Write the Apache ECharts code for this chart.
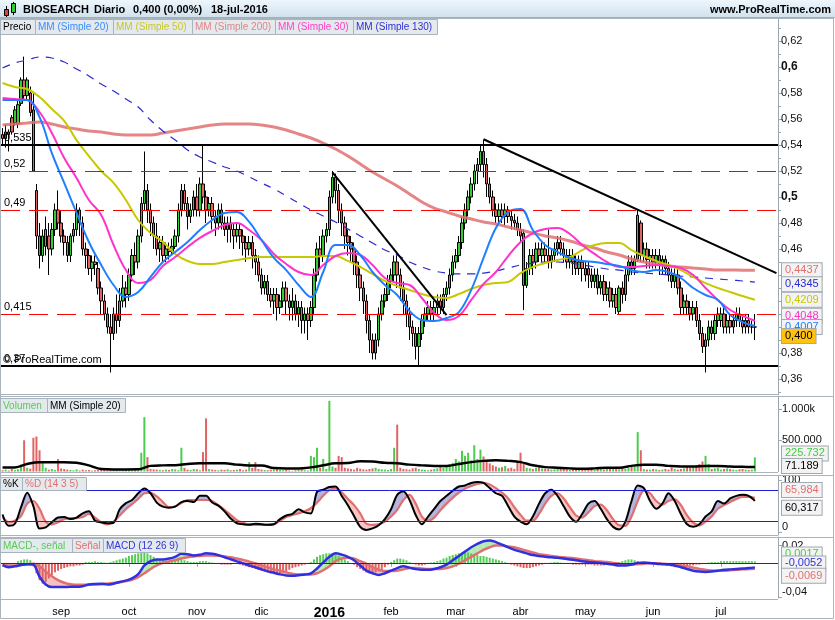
<!DOCTYPE html>
<html><head><meta charset="utf-8">
<script src="https://cdn.jsdelivr.net/npm/echarts@6/dist/echarts.min.js"></script>
<style>html,body{margin:0;padding:0;background:#fff}#c{width:835px;height:620px}</style>
</head><body><div id="c"></div>
<script>
// ---------------- DATA ----------------
const monthStartIdx = [19, 41, 63, 84, 106, 126, 147, 168, 189, 211, 233];
const monthLabels   = ['sep','oct','nov','dic','2016','feb','mar','abr','may','jun','jul'];

// daily candles [open, close, low, high]
const candles = [
[0.548,0.545,0.54,0.553],[0.545,0.55,0.538,0.556],[0.55,0.548,0.535,0.552],[0.561,0.55,0.548,0.563],[0.557,0.567,0.555,0.57],[0.556,0.571,0.553,0.575],[0.572,0.59,0.57,0.592],[0.59,0.578,0.575,0.608],[0.578,0.59,0.575,0.592],[0.58,0.565,0.562,0.585],
[0.567,0.52,0.52,0.58],[0.505,0.47,0.46,0.51],[0.47,0.455,0.445,0.48],[0.455,0.47,0.45,0.475],[0.462,0.475,0.455,0.485],[0.47,0.46,0.44,0.48],[0.46,0.475,0.455,0.48],[0.475,0.49,0.47,0.495],[0.49,0.48,0.475,0.505],[0.48,0.47,0.465,0.49],
[0.47,0.465,0.455,0.475],[0.465,0.455,0.45,0.47],[0.455,0.47,0.45,0.472],[0.47,0.475,0.465,0.48],[0.475,0.49,0.47,0.495],[0.49,0.48,0.47,0.492],[0.48,0.46,0.455,0.485],[0.46,0.455,0.445,0.465],[0.455,0.445,0.44,0.46],[0.445,0.45,0.435,0.455],
[0.45,0.448,0.44,0.455],[0.445,0.43,0.425,0.45],[0.43,0.42,0.41,0.435],[0.42,0.41,0.405,0.425],[0.41,0.4,0.395,0.415],[0.4,0.395,0.365,0.41],[0.395,0.41,0.39,0.415],[0.41,0.405,0.395,0.425],[0.405,0.42,0.4,0.43],[0.42,0.43,0.415,0.44],
[0.43,0.425,0.415,0.435],[0.425,0.44,0.42,0.445],[0.44,0.455,0.435,0.46],[0.455,0.45,0.44,0.465],[0.45,0.47,0.445,0.475],[0.47,0.495,0.465,0.5],[0.495,0.505,0.49,0.535],[0.505,0.49,0.48,0.51],[0.49,0.48,0.47,0.495],[0.48,0.47,0.46,0.485],
[0.47,0.46,0.455,0.48],[0.46,0.465,0.45,0.47],[0.465,0.455,0.45,0.47],[0.455,0.46,0.45,0.465],[0.46,0.458,0.452,0.465],[0.458,0.462,0.455,0.468],[0.462,0.47,0.46,0.475],[0.47,0.49,0.465,0.495],[0.49,0.505,0.485,0.51],[0.505,0.495,0.49,0.51],
[0.495,0.485,0.475,0.5],[0.485,0.49,0.48,0.495],[0.49,0.5,0.485,0.505],[0.5,0.49,0.485,0.51],[0.49,0.51,0.485,0.515],[0.51,0.5,0.495,0.54],[0.5,0.49,0.48,0.505],[0.49,0.495,0.485,0.5],[0.495,0.485,0.475,0.5],[0.485,0.48,0.47,0.49],
[0.48,0.49,0.475,0.495],[0.49,0.48,0.475,0.495],[0.48,0.475,0.47,0.485],[0.475,0.48,0.465,0.485],[0.48,0.475,0.465,0.485],[0.475,0.47,0.46,0.48],[0.47,0.475,0.465,0.48],[0.475,0.47,0.46,0.48],[0.47,0.465,0.455,0.475],[0.465,0.46,0.45,0.47],
[0.46,0.465,0.455,0.47],[0.465,0.455,0.445,0.47],[0.455,0.45,0.44,0.46],[0.45,0.44,0.435,0.455],[0.44,0.43,0.425,0.445],[0.43,0.435,0.425,0.44],[0.435,0.425,0.42,0.44],[0.425,0.42,0.415,0.43],[0.42,0.425,0.41,0.43],[0.425,0.415,0.405,0.43],
[0.415,0.42,0.41,0.425],[0.42,0.43,0.415,0.435],[0.43,0.42,0.41,0.435],[0.42,0.415,0.405,0.425],[0.415,0.42,0.405,0.43],[0.42,0.41,0.405,0.425],[0.41,0.415,0.4,0.42],[0.415,0.405,0.395,0.42],[0.405,0.41,0.395,0.415],[0.41,0.405,0.39,0.415],
[0.405,0.415,0.4,0.42],[0.415,0.44,0.41,0.445],[0.44,0.46,0.435,0.465],[0.46,0.455,0.445,0.47],[0.455,0.47,0.45,0.475],[0.47,0.475,0.465,0.48],[0.475,0.5,0.47,0.505],[0.5,0.515,0.495,0.52],[0.515,0.505,0.495,0.518],[0.505,0.49,0.48,0.51],
[0.49,0.48,0.47,0.495],[0.48,0.47,0.46,0.485],[0.47,0.465,0.455,0.475],[0.465,0.46,0.45,0.47],[0.46,0.45,0.44,0.465],[0.45,0.44,0.43,0.455],[0.44,0.43,0.42,0.445],[0.43,0.42,0.41,0.435],[0.42,0.405,0.395,0.425],[0.405,0.39,0.38,0.41],
[0.39,0.38,0.375,0.395],[0.38,0.39,0.375,0.395],[0.39,0.41,0.385,0.415],[0.41,0.42,0.405,0.425],[0.42,0.425,0.415,0.43],[0.425,0.435,0.42,0.44],[0.435,0.44,0.43,0.445],[0.44,0.45,0.435,0.455],[0.45,0.44,0.43,0.455],[0.44,0.43,0.42,0.445],
[0.43,0.42,0.41,0.435],[0.42,0.41,0.4,0.425],[0.41,0.4,0.39,0.415],[0.4,0.395,0.385,0.405],[0.395,0.385,0.375,0.4],[0.385,0.395,0.37,0.4],[0.395,0.405,0.39,0.41],[0.405,0.41,0.4,0.415],[0.41,0.415,0.405,0.42],[0.415,0.41,0.405,0.42],
[0.41,0.415,0.405,0.42],[0.415,0.42,0.41,0.425],[0.42,0.415,0.41,0.425],[0.415,0.425,0.41,0.43],[0.425,0.43,0.42,0.435],[0.43,0.44,0.425,0.445],[0.44,0.45,0.435,0.455],[0.45,0.455,0.445,0.46],[0.455,0.465,0.45,0.47],[0.465,0.48,0.46,0.485],
[0.48,0.49,0.475,0.495],[0.49,0.5,0.485,0.505],[0.5,0.51,0.495,0.515],[0.51,0.52,0.505,0.525],[0.52,0.525,0.51,0.53],[0.525,0.535,0.52,0.54],[0.535,0.525,0.515,0.544],[0.525,0.51,0.5,0.53],[0.51,0.5,0.495,0.515],[0.5,0.49,0.485,0.505],
[0.49,0.485,0.48,0.495],[0.485,0.49,0.48,0.495],[0.49,0.485,0.48,0.495],[0.485,0.49,0.478,0.495],[0.49,0.485,0.48,0.493],[0.485,0.482,0.475,0.49],[0.482,0.48,0.475,0.487],[0.48,0.475,0.47,0.485],[0.475,0.47,0.465,0.48],[0.472,0.432,0.413,0.475],
[0.432,0.445,0.43,0.45],[0.445,0.455,0.44,0.46],[0.455,0.45,0.44,0.46],[0.45,0.46,0.445,0.465],[0.46,0.455,0.45,0.465],[0.455,0.46,0.45,0.465],[0.46,0.455,0.45,0.465],[0.455,0.45,0.445,0.475],[0.45,0.455,0.445,0.46],[0.455,0.46,0.45,0.465],
[0.46,0.465,0.455,0.47],[0.465,0.46,0.455,0.47],[0.46,0.455,0.45,0.465],[0.455,0.45,0.445,0.46],[0.45,0.455,0.445,0.46],[0.455,0.45,0.44,0.46],[0.45,0.445,0.44,0.455],[0.445,0.45,0.44,0.455],[0.45,0.445,0.435,0.455],[0.445,0.44,0.435,0.45],
[0.445,0.44,0.43,0.45],[0.44,0.435,0.43,0.445],[0.435,0.44,0.43,0.445],[0.44,0.43,0.425,0.445],[0.43,0.435,0.425,0.44],[0.435,0.425,0.42,0.44],[0.425,0.43,0.42,0.435],[0.43,0.42,0.415,0.435],[0.42,0.425,0.415,0.43],[0.425,0.415,0.41,0.43],
[0.412,0.43,0.41,0.432],[0.43,0.425,0.418,0.435],[0.425,0.44,0.42,0.445],[0.44,0.45,0.435,0.455],[0.45,0.445,0.44,0.455],[0.445,0.452,0.44,0.455],[0.452,0.486,0.45,0.49],[0.48,0.455,0.45,0.482],[0.455,0.46,0.45,0.465],[0.46,0.452,0.445,0.465],
[0.452,0.455,0.445,0.46],[0.455,0.45,0.445,0.46],[0.45,0.455,0.445,0.46],[0.455,0.448,0.44,0.46],[0.448,0.452,0.44,0.455],[0.452,0.445,0.44,0.455],[0.445,0.44,0.435,0.45],[0.44,0.435,0.43,0.445],[0.435,0.44,0.43,0.445],[0.44,0.43,0.425,0.445],
[0.43,0.415,0.41,0.435],[0.415,0.42,0.41,0.425],[0.42,0.415,0.41,0.425],[0.415,0.41,0.405,0.42],[0.41,0.415,0.405,0.42],[0.415,0.405,0.4,0.42],[0.405,0.395,0.39,0.41],[0.395,0.385,0.38,0.4],[0.385,0.39,0.365,0.395],[0.39,0.4,0.385,0.405],
[0.4,0.395,0.39,0.405],[0.395,0.405,0.39,0.41],[0.405,0.41,0.4,0.415],[0.405,0.41,0.4,0.415],[0.41,0.4,0.395,0.415],[0.4,0.405,0.395,0.41],[0.405,0.4,0.395,0.41],[0.4,0.405,0.395,0.41],[0.405,0.41,0.4,0.415],[0.41,0.405,0.4,0.415],
[0.405,0.4,0.395,0.41],[0.4,0.405,0.395,0.41],[0.405,0.4,0.395,0.41],[0.4,0.4,0.395,0.405],[0.4,0.4,0.39,0.41]
];

// daily volume, thousands of shares
const volK = [
20,30,15,40,25,35,110,500,60,45, 540,560,340,150,60,30,40,25,200,50,
40,30,25,20,35,15,30,20,25,15, 20,25,35,30,20,40,30,20,15,30,
25,30,20,35,40,300,870,230,40,35, 30,25,20,30,25,40,35,20,380,60,
30,25,40,35,20,310,850,40,30,25, 20,30,25,35,20,25,30,40,20,30,
150,60,150,40,30,25,20,30,35,40, 25,20,30,15,10,20,25,30,20,15,
250,230,380,60,200,40,1130,80,60,250, 230,60,50,40,30,60,45,35,30,40,
50,60,40,35,30,25,40,380,750,60, 40,35,30,50,60,40,30,25,20,30,
40,50,80,60,100,120,140,200,160,330, 250,300,180,420,200,350,240,150,130,100,
80,60,70,90,50,60,40,150,300,120, 60,50,40,60,70,50,45,40,30,35,
40,50,60,30,25,40,50,30,35,45, 50,40,30,60,40,30,40,50,50,40,
35,60,40,60,80,90,630,340,40,30, 30,40,35,25,30,40,30,60,40,30,
40,50,80,60,80,100,120,160,250,120, 40,50,60,30,40,50,40,30,25,35,
40,30,25,30,225.732
];

// moving averages sampled every 4 sessions (index 0,4,...,244)
const ma20 = [0.5746,0.5746,0.5746,0.5615,0.5338,0.5108,0.4877,0.4654,0.4477,0.4323,0.4231,0.4269,0.4385,0.45,0.4577,0.4654,0.4746,0.4823,0.4877,0.4885,0.4808,0.4669,0.4531,0.4438,0.4323,0.4231,0.4423,0.4631,0.4631,0.4554,0.4423,0.4323,0.4246,0.4123,0.4054,0.4046,0.4069,0.4115,0.4285,0.4531,0.4762,0.4885,0.4908,0.4746,0.4631,0.4577,0.4531,0.4508,0.45,0.4485,0.4469,0.4438,0.4423,0.4438,0.4423,0.4377,0.43,0.4246,0.4208,0.4092,0.4038,0.4007];
const ma30 = [0.5762,0.5754,0.5746,0.5654,0.5492,0.53,0.5146,0.4977,0.4862,0.4631,0.4438,0.4338,0.4362,0.4469,0.4538,0.4615,0.4685,0.4739,0.4785,0.48,0.4746,0.4669,0.4562,0.4485,0.4423,0.44,0.4477,0.4546,0.4569,0.4554,0.4477,0.4377,0.4338,0.4323,0.4223,0.4108,0.4054,0.4085,0.4208,0.4331,0.4423,0.4546,0.4654,0.4723,0.4754,0.4762,0.4715,0.4631,0.4562,0.45,0.4462,0.4462,0.4469,0.4477,0.4469,0.4454,0.44,0.43,0.4208,0.4131,0.4085,0.4048];
const ma50 = [0.5877,0.5846,0.5831,0.5769,0.5677,0.5585,0.5438,0.5315,0.52,0.5108,0.4977,0.4823,0.4723,0.4654,0.4562,0.4508,0.4485,0.4485,0.45,0.4515,0.4531,0.4538,0.4538,0.4538,0.4538,0.4538,0.4546,0.4546,0.4508,0.4462,0.4408,0.4354,0.4315,0.4285,0.4254,0.4231,0.4223,0.4254,0.4292,0.4323,0.4338,0.4346,0.4415,0.4462,0.4492,0.4515,0.4538,0.4592,0.4631,0.4646,0.4646,0.4592,0.4546,0.4508,0.4477,0.4438,0.4385,0.4338,0.43,0.4269,0.4238,0.4209];
const ma200 = [0.5554,0.5562,0.5569,0.5577,0.5562,0.5539,0.5523,0.5508,0.55,0.5485,0.5477,0.5477,0.5477,0.5492,0.5508,0.5523,0.5539,0.5554,0.5562,0.5562,0.5562,0.5554,0.5539,0.5515,0.5485,0.5454,0.5415,0.5369,0.5315,0.5254,0.5192,0.5138,0.5085,0.5023,0.4962,0.4915,0.4885,0.4854,0.4831,0.4808,0.4792,0.4769,0.4746,0.4723,0.47,0.4685,0.4662,0.4631,0.4608,0.4577,0.4554,0.4523,0.45,0.4485,0.4469,0.4462,0.4454,0.4446,0.4438,0.4438,0.4437,0.4437];
const ma130 = [0.5992,0.6031,0.6054,0.6077,0.6069,0.6038,0.5985,0.5931,0.5869,0.5815,0.5754,0.5692,0.5592,0.5508,0.5438,0.5362,0.5308,0.5269,0.5231,0.52,0.5154,0.5108,0.5062,0.5008,0.4954,0.49,0.4854,0.4808,0.4754,0.47,0.4646,0.4592,0.4554,0.45,0.4462,0.4431,0.4415,0.4408,0.4408,0.4415,0.4431,0.4454,0.4477,0.4492,0.45,0.45,0.4492,0.4477,0.4462,0.4446,0.4438,0.4423,0.4415,0.4408,0.44,0.4392,0.4385,0.4377,0.4369,0.4362,0.4354,0.4345];
const volMA20K = [66,66,120,148,148,148,140,98,40,33,33,35,90,98,100,120,131,131,131,110,98,98,55,49,49,66,100,131,135,164,160,140,131,110,98,90,90,120,150,170,180,170,150,100,70,60,50,45,50,60,60,90,110,110,90,80,80,90,90,80,75,71.189];

// stochastic & MACD sampled every 2 sessions (index 0,2,...,244)
const stochK = [34,12,16,48,76,50,7,9,19,28, 29,25,28,36,40,22,19,17,18,44, 56,62,75,84,75,57,49,47,49,58, 60,58,70,70,57,51,40,26,17,15, 14,16,15,14,15,25,32,35,44,38, 36,78,82,87,88,70,52,31,10,4, 7,13,25,44,72,79,62,33,15,30, 45,60,70,80,88,90,95,97,95,85, 75,70,50,30,20,15,30,55,75,82, 70,50,30,20,35,55,60,45,25,10, 5,20,60,90,85,60,45,55,75,60, 35,15,10,15,30,40,60,55,65,70, 72,70,60.317];
const stochD = [29,19,22,31,55,60,45,20,15,19, 25,27,27,29,35,28,19,15,20,32, 44,54,64,75,76,69,58,48,50,56, 62,62,62,62,60,52,43,33,23,18, 15,14,14,14,15,22,29,33,36,40, 46,57,70,81,84,77,64,52,36,16, 14,15,20,30,43,62,72,55,30,22, 28,42,55,66,76,84,89,93,95,92, 85,76,65,48,33,22,22,35,55,70, 75,65,48,32,28,38,50,53,42,25, 13,12,30,60,80,75,60,53,60,63, 52,32,18,13,20,30,45,52,58,64, 68,68,65.984];
const macdLine = [-0.0025,-0.005,-0.004,-0.0025,-0.0015,-0.002,-0.016,-0.025,-0.028,-0.028,
-0.028,-0.0277,-0.0277,-0.027,-0.025,-0.0243,-0.024,-0.025,-0.024,-0.022,
-0.0205,-0.018,-0.013,-0.003,0.002,0.004,0.004,0.005,0.007,0.0105,
0.01,0.0086,0.0094,0.011,0.0105,0.009,0.0065,0.0042,0.0018,-0.0005,
-0.003,-0.005,-0.0075,-0.0098,-0.0115,-0.0133,-0.0145,-0.015,-0.0143,-0.0135,
-0.012,-0.0065,0.0005,0.007,0.011,0.0095,0.007,0.003,-0.003,-0.009,
-0.012,-0.014,-0.012,-0.009,-0.006,-0.004,-0.0055,-0.0072,-0.008,-0.008,
-0.007,-0.005,-0.002,0.003,0.008,0.013,0.018,0.022,0.025,0.026,
0.024,0.021,0.018,0.015,0.013,0.011,0.009,0.008,0.007,0.0065,
0.006,0.005,0.004,0.003,0.002,0.001,0.0005,0,-0.001,-0.002,
-0.003,-0.003,-0.002,0,0.0005,0,-0.001,-0.0015,-0.002,-0.003,
-0.005,-0.007,-0.009,-0.01,-0.0105,-0.01,-0.009,-0.008,-0.0075,-0.007,
-0.0065,-0.006,-0.0052];
const macdSignal = [-0.0025,-0.003,-0.003,-0.0025,-0.0015,-0.001,-0.004,-0.01,-0.0155,-0.02,
-0.023,-0.0248,-0.0252,-0.0254,-0.0252,-0.025,-0.0247,-0.024,-0.0232,-0.0225,
-0.021,-0.0195,-0.0165,-0.012,-0.007,-0.003,0,0.0015,0.0032,0.005,
0.0065,0.0075,0.008,0.0085,0.0086,0.0082,0.0075,0.0065,0.005,0.0035,
0.0015,-0.0005,-0.003,-0.005,-0.0075,-0.009,-0.011,-0.0125,-0.0133,-0.0135,
-0.0133,-0.012,-0.0085,-0.004,0.002,0.005,0.006,0.005,0.002,-0.001,
-0.005,-0.008,-0.0095,-0.0095,-0.009,-0.0075,-0.006,-0.006,-0.0065,-0.007,
-0.0072,-0.007,-0.006,-0.004,-0.001,0.003,0.007,0.011,0.015,0.018,
0.02,0.02,0.019,0.018,0.016,0.014,0.012,0.01,0.009,0.008,
0.007,0.0065,0.006,0.005,0.004,0.003,0.002,0.0015,0.001,0,
-0.001,-0.002,-0.002,-0.0015,-0.001,-0.0005,-0.0005,-0.001,-0.0015,-0.002,
-0.003,-0.004,-0.0055,-0.007,-0.008,-0.0088,-0.009,-0.009,-0.0085,-0.008,
-0.0075,-0.0072,-0.0069];
// daily MACD histogram ("MACD-, señal")
const macdHist = [
-0.0015,-0.0015,-0.0015,-0.001,-0.001, 0.002,0.003,0.004,0.004,0.003, -0.004,
-0.012,-0.02,-0.024,-0.022, -0.018,-0.014,-0.011,-0.009,-0.007,
-0.006,-0.005,-0.004,-0.004,-0.003,-0.003,-0.002, 0.001,0.001,0.001,0.002,0.001,0.001,0.0005,
-0.0005,0.001,0.002,0.003, 0.004,0.005,0.006,0.008,0.009,0.01,0.011,0.012,0.012,0.011,0.009,0.007,
0.005,0.004,0.003,0.002,0.002,0.003,0.003, 0.004,0.004,0.003,0.002,0.001,0.001,0.001,0.002,0.002,0.002,
0.001,0.0005,-0.0005,-0.001,-0.002,-0.002, -0.002,-0.002,-0.001,-0.001,-0.002,-0.003,
-0.004,-0.005,-0.006,-0.007,-0.008,-0.009,-0.01,-0.011,-0.012,-0.013,-0.013,-0.012,-0.011,-0.01,-0.008,-0.006,-0.005,
-0.004,-0.003,-0.002,-0.001,0.001, 0.004,0.007,0.009,0.01,0.011,0.011,0.011,0.01,0.008,0.006,
0.004,0.002,0,-0.002, -0.005,-0.007,-0.009,-0.011,-0.012,-0.012,-0.011,-0.01,-0.008,-0.005,-0.002,
0.001,0.003,0.005,0.005,0.004,0.003,0.001,-0.001, -0.002,-0.003,-0.003,-0.002,-0.001,0.0005,0.001,
0.002,0.003,0.005,0.006,0.008,0.009,0.01,0.011,0.012,0.012,0.012,0.011,0.01,0.009,0.008,0.008,0.007,0.006,0.005,0.004,
0.003,0.002,0.001,-0.001,-0.002,-0.003,-0.004,-0.005,-0.006,-0.006,-0.006,-0.005,-0.004,-0.003,-0.002,
-0.001,-0.001,0.0005,0.001,0.001,0.0005,-0.0005,-0.001,-0.001,-0.002,-0.002,-0.002,-0.002,-0.002,-0.002,-0.002,-0.003,-0.003,-0.003,-0.003,-0.002,-0.001,-0.001,0.0005,0.001,
0.002,0.003,0.004,0.004,0.003,0.002,0.001,0.0005,-0.0005,-0.001,-0.001,-0.001,-0.001,-0.002,-0.002,
-0.003,-0.004,-0.005,-0.005,-0.005,-0.004,-0.004,-0.003,-0.003,-0.002,-0.002,-0.001,-0.001,
0.0005,0.001,0.001,0.001,0.002,0.002,0.002,0.002,0.002,0.002,0.002,0.002,0.002,0.002,0.002,0.0017
];

// horizontal levels and trend lines on the price panel
const levelsSolid  = [0.535, 0.37];
const levelsDashed = [0.52, 0.49, 0.415];
const trendLines = [[[107, 0.519], [144, 0.4092]], [[156, 0.5444], [251, 0.4415]]];

// axis tick values
const priceTicks = [0.36,0.38,0.4,0.42,0.44,0.46,0.48,0.5,0.52,0.54,0.56,0.58,0.6,0.62];
const priceMinorTicks = [0.35,0.37,0.39,0.41,0.43,0.45,0.47,0.49,0.51,0.53,0.55,0.57,0.59,0.61,0.63];
const volTicksK = [500, 1000];
const stochTicks = [0, 100];
const macdTicks = [-0.04, 0.02];

// ---------------- CHART ----------------
const FONT = "'Liberation Sans', Arial, sans-serif";
const NCAT = 252;
const cats = []; for (let i = 0; i < NCAT; i++) cats.push(String(i));
const maIdx = []; for (let i = 0; i <= 244; i += 4) maIdx.push(i);
const stIdx = []; for (let i = 0; i <= 244; i += 2) stIdx.push(i);
const zip = (xs, ys) => xs.map((x, i) => [x, ys[i]]);
const monthMap = {}; monthStartIdx.forEach((v, i) => monthMap[v] = monthLabels[i]);

const GREEN = '#33cc33', RED = '#e06464', AXC = '#9aa6b0';

const chart = echarts.init(document.getElementById('c'), null, {renderer: 'canvas', width: 835, height: 620});

const grids = [
  {left: 1, top: 18, width: 777, height: 377},
  {left: 1, top: 397, width: 777, height: 74.5},
  {left: 1, top: 476, width: 777, height: 59},
  {left: 1, top: 537, width: 777, height: 62}
];
const xAxes = grids.map((g, gi) => ({
  type: 'category', gridIndex: gi, data: cats, boundaryGap: true,
  axisLine: {show: gi === 3, lineStyle: {color: AXC}},
  axisTick: {show: gi === 3, alignWithLabel: true, length: 4, lineStyle: {color: AXC},
             interval: (i) => monthMap[i] !== undefined},
  axisLabel: {show: gi === 3, interval: (i) => monthMap[i] !== undefined, margin: 8,
              color: '#000', fontSize: 11, fontFamily: FONT,
              formatter: (v) => { const m = monthMap[Number(v)]; return m === '2016' ? '{y|2016}' : m; },
              rich: {y: {fontWeight: 'bold', fontSize: 14, fontFamily: FONT, color: '#000'}}},
  splitLine: {show: false}
}));
const yBase = (gi, min, max) => ({
  type: 'value', gridIndex: gi, position: 'right', min, max, scale: true,
  axisLine: {show: true, lineStyle: {color: AXC}}, splitLine: {show: false}
});
const priceFmt = (v) => {
  const s = String(Math.round(v * 100) / 100).replace('.', ',');
  return [0.4, 0.5, 0.6].some(b => Math.abs(b - v) < 1e-9) ? '{b|' + s + '}' : s;
};
const yAxes = [
  Object.assign(yBase(0, 0.34769, 0.63769), {
    axisTick: {show: true, length: 5, lineStyle: {color: AXC}, customValues: priceTicks},
    axisLabel: {show: true, customValues: priceTicks, margin: 3, color: '#111', fontSize: 11, fontFamily: FONT,
                formatter: priceFmt, rich: {b: {fontWeight: 'bold', fontSize: 12, fontFamily: FONT, color: '#111'}}}
  }),
  Object.assign(yBase(0, 0.34769, 0.63769), {
    axisLine: {show: false},
    axisTick: {show: true, length: 3, lineStyle: {color: AXC}, customValues: priceMinorTicks},
    axisLabel: {show: false}
  }),
  Object.assign(yBase(1, 0, 1192), {
    axisTick: {show: true, length: 4, lineStyle: {color: AXC}, customValues: volTicksK},
    axisLabel: {show: true, customValues: volTicksK, margin: 4, color: '#111', fontSize: 11, fontFamily: FONT,
                formatter: (v) => v === 1000 ? '1.000k' : '500.000'}
  }),
  Object.assign(yBase(2, -5.75, 108.4), {
    axisTick: {show: true, length: 4, lineStyle: {color: AXC}, customValues: stochTicks},
    axisLabel: {show: true, customValues: stochTicks, margin: 4, color: '#111', fontSize: 11, fontFamily: FONT,
                formatter: (v) => v === 0 ? '{z|0}' : '{n|100}',
                rich: {z: {padding: [0, 0, 10, 0], fontSize: 11, fontFamily: FONT, color: '#111'},
                       n: {fontSize: 11, fontFamily: FONT, color: '#111'}}}
  }),
  Object.assign(yBase(3, -0.04057, 0.0299), {
    axisTick: {show: true, length: 4, lineStyle: {color: AXC}, customValues: macdTicks},
    axisLabel: {show: true, customValues: macdTicks, margin: 4, color: '#111', fontSize: 11, fontFamily: FONT,
                formatter: (v) => v < 0 ? '{z|-0,04}' : '{n|0,02}',
                rich: {z: {padding: [0, 0, 11, 0], fontSize: 11, fontFamily: FONT, color: '#111'},
                       n: {fontSize: 11, fontFamily: FONT, color: '#111'}}}
  })
];

function fillBetween(gi, yi, xs, a, b, colUp, colDn) {
  const data = [];
  for (let i = 0; i < xs.length - 1; i++) data.push([xs[i], a[i], b[i], xs[i + 1], a[i + 1], b[i + 1]]);
  return {
    type: 'custom', xAxisIndex: gi, yAxisIndex: yi, silent: true, z: 1, clip: true,
    encode: {x: [0, 3], y: [1, 2, 4, 5]},
    renderItem(params, api) {
      const x0 = api.value(0), a0 = api.value(1), b0 = api.value(2);
      const x1 = api.value(3), a1 = api.value(4), b1 = api.value(5);
      const pa0 = api.coord([x0, a0]), pa1 = api.coord([x1, a1]);
      const pb0 = api.coord([x0, b0]), pb1 = api.coord([x1, b1]);
      const d0 = a0 - b0, d1 = a1 - b1;
      const ch = [];
      if ((d0 >= 0) === (d1 >= 0)) {
        ch.push({type: 'polygon', shape: {points: [pa0, pa1, pb1, pb0]}, style: {fill: (d0 + d1) >= 0 ? colUp : colDn}});
      } else {
        const t = d0 / (d0 - d1);
        const c = [pa0[0] + t * (pa1[0] - pa0[0]), pa0[1] + t * (pa1[1] - pa0[1])];
        ch.push({type: 'polygon', shape: {points: [pa0, c, pb0]}, style: {fill: d0 >= 0 ? colUp : colDn}});
        ch.push({type: 'polygon', shape: {points: [c, pa1, pb1]}, style: {fill: d1 >= 0 ? colUp : colDn}});
      }
      return {type: 'group', children: ch};
    },
    data
  };
}

const lvlLabel = (txt) => ({show: true, position: 'insideStartTop', distance: [3, 2], formatter: txt,
  color: '#000', fontSize: 11, fontFamily: FONT});
const fmtLvl = (v) => String(v).replace('.', ',');
const markData = [];
levelsSolid.forEach(v => markData.push({yAxis: v, lineStyle: {color: '#000', width: 2, type: 'solid'}, label: lvlLabel(fmtLvl(v))}));
levelsDashed.forEach(v => markData.push({yAxis: v, lineStyle: {color: '#ff0000', width: 1, type: [19, 9]}, label: lvlLabel(fmtLvl(v))}));
trendLines.forEach(tl => markData.push([
  {coord: tl[0], lineStyle: {color: '#000', width: 2, type: 'solid'}, label: {show: false}},
  {coord: tl[1]}
]));

const lineS = (xi, yi, data, color, width, extra) => Object.assign({
  type: 'line', xAxisIndex: xi, yAxisIndex: yi, data, symbol: 'none', silent: true,
  lineStyle: {color, width}, itemStyle: {color}, z: 3
}, extra || {});

const series = [
  {type: 'candlestick', xAxisIndex: 0, yAxisIndex: 0, data: candles, barWidth: 3, z: 2, silent: true,
   itemStyle: {color: GREEN, color0: RED, borderColor: '#000', borderColor0: '#000', borderWidth: 1},
   markLine: {symbol: 'none', silent: true, animation: false, data: markData}},
  lineS(0, 0, zip(maIdx, ma200), 'rgba(224,112,112,0.85)', 3, {smooth: 0.4}),
  lineS(0, 0, zip(maIdx, ma130), '#2a2ad0', 1.2, {smooth: 0.4, lineStyle: {color: '#2a2ad0', width: 1.2, type: [8, 7]}}),
  lineS(0, 0, zip(maIdx, ma50), '#c8c800', 2, {smooth: 0.4}),
  lineS(0, 0, zip(maIdx, ma30), '#ff33cc', 2, {smooth: 0.4}),
  lineS(0, 0, zip(maIdx, ma20), '#1e7fff', 2, {smooth: 0.4}),
  {type: 'bar', xAxisIndex: 1, yAxisIndex: 2, barWidth: 2, silent: true,
   data: volK.map((v, i) => ({value: v, itemStyle: {color: candles[i][1] >= candles[i][0] ? '#4ccc4c' : '#e06464'}}))},
  lineS(1, 2, zip(maIdx, volMA20K), '#000', 2.5, {smooth: 0.4}),
  fillBetween(2, 3, stIdx, stochK, stochD, 'rgba(130,130,200,0.6)', 'rgba(240,150,150,0.55)'),
  lineS(2, 3, zip(stIdx, stochD), '#e07070', 2.2, {smooth: 0.3}),
  lineS(2, 3, zip(stIdx, stochK), '#000', 2, {smooth: 0.3,
    markLine: {symbol: 'none', silent: true, label: {show: false}, lineStyle: {color: '#2020d0', width: 1, type: 'solid'},
               data: [{yAxis: 80}, {yAxis: 20}]}}),
  fillBetween(3, 4, stIdx, macdLine, macdSignal, 'rgba(150,225,150,0.7)', 'rgba(240,150,150,0.6)'),
  {type: 'bar', xAxisIndex: 3, yAxisIndex: 4, barWidth: 2, silent: true, z: 2,
   data: macdHist.map(v => ({value: v, itemStyle: {color: v >= 0 ? '#55cc55' : '#e06060'}})),
   markLine: {symbol: 'none', silent: true, label: {show: false}, lineStyle: {color: '#2020d0', width: 1, type: 'solid'},
              data: [{yAxis: 0}]}},
  lineS(3, 4, zip(stIdx, macdSignal), '#e07070', 2.5, {smooth: 0.3}),
  lineS(3, 4, zip(stIdx, macdLine), '#3030e0', 2.5, {smooth: 0.3})
];

chart.setOption({
  animation: false, backgroundColor: '#fff',
  grid: grids, xAxis: xAxes, yAxis: yAxes, series
});

// ---------------- DECORATION ----------------
const G = [];
G.push({type: 'rect', z: 50, shape: {x: 0, y: 0, width: 835, height: 18},
  style: {fill: new echarts.graphic.LinearGradient(0, 0, 0, 1, [{offset: 0, color: '#eef6fc'}, {offset: 1, color: '#cfe1ee'}])}});
G.push({type: 'line', z: 51, shape: {x1: 0, y1: 17.5, x2: 835, y2: 17.5}, style: {stroke: '#9fb0bd'}});
G.push({type: 'line', z: 52, shape: {x1: 6.5, y1: 6, x2: 6.5, y2: 17}, style: {stroke: '#000'}});
G.push({type: 'rect', z: 53, shape: {x: 4.5, y: 9.5, width: 4, height: 6}, style: {fill: '#e04040', stroke: '#000'}});
G.push({type: 'line', z: 52, shape: {x1: 13.5, y1: 2, x2: 13.5, y2: 15}, style: {stroke: '#000'}});
G.push({type: 'rect', z: 53, shape: {x: 11.5, y: 3.5, width: 4, height: 9}, style: {fill: '#33cc33', stroke: '#000'}});
[['BIOSEARCH', 23], ['Diario', 94], ['0,400 (0,00%)', 133], ['18-jul-2016', 211]].forEach(([t, x]) =>
  G.push({type: 'text', z: 54, x, y: 10, style: {text: t, fill: '#000', font: 'bold 11px ' + FONT, verticalAlign: 'middle'}}));
G.push({type: 'text', z: 54, x: 831, y: 10, style: {text: 'www.ProRealTime.com', fill: '#000', font: 'bold 11px ' + FONT, verticalAlign: 'middle', align: 'right'}});

[[18.5, 394.5], [396.5, 472.5], [475.5, 535.5], [537.5, 599.5]].forEach(([t, b]) => {
  G.push({type: 'line', z: 40, shape: {x1: 0, y1: t, x2: 834, y2: t}, style: {stroke: '#a9b4bd'}});
  G.push({type: 'line', z: 40, shape: {x1: 0, y1: b, x2: 778, y2: b}, style: {stroke: '#a9b4bd'}});
});
G.push({type: 'rect', z: 40, shape: {x: 0.5, y: 18.5, width: 833, height: 600}, style: {fill: 'none', stroke: '#a9b4bd'}});

function legend(y, h, items) {
  items.forEach(([x0, x1, t, c]) => {
    G.push({type: 'rect', z: 60, shape: {x: x0 + 0.5, y: y + 0.5, width: x1 - x0, height: h},
      style: {fill: '#e4e9ed', stroke: '#a9b3bc'}});
    G.push({type: 'text', z: 61, x: x0 + 3, y: y + h / 2 + 1, style: {text: t, fill: c, font: '10px ' + FONT, verticalAlign: 'middle'}});
  });
}
legend(19, 15, [[0, 35, 'Precio', '#000'], [35, 113, 'MM (Simple 20)', '#3a8cff'], [113, 192, 'MM (Simple 50)', '#c8c828'],
  [192, 275, 'MM (Simple 200)', '#e08585'], [275, 353, 'MM (Simple 30)', '#ff40c8'], [353, 437, 'MM (Simple 130)', '#3030d0']]);
legend(398, 14, [[0, 47, 'Volumen', '#55cc55'], [47, 125, 'MM (Simple 20)', '#000']]);
legend(477, 13, [[0, 22, '%K', '#000'], [22, 86, '%D (14 3 5)', '#e07070']]);
legend(538, 14, [[0, 72, 'MACD-, señal', '#55cc55'], [72, 103, 'Señal', '#e07070'], [103, 185, 'MACD (12 26 9)', '#3333dd']]);

G.push({type: 'text', z: 30, x: 3, y: 360, style: {text: '© ProRealTime.com', fill: '#000', font: '11px ' + FONT, verticalAlign: 'middle'}});

function valBox(yi, value, text, color, dy, bg, z) {
  const y = chart.convertToPixel({yAxisIndex: yi}, value) + dy;
  G.push({type: 'text', z: z || 70, x: 782, y, style: {text, fill: color, font: '11px ' + FONT, verticalAlign: 'middle',
    backgroundColor: bg || '#f3f3f3', borderColor: '#a0a8b0', borderWidth: 1, padding: [2, 3, 1, 3]}});
}
valBox(0, ma200[ma200.length - 1], '0,4437', '#e07070', 0);
valBox(0, ma130[ma130.length - 1], '0,4345', '#2a2ad0', 2);
valBox(0, ma50[ma50.length - 1], '0,4209', '#c8c800', 0);
valBox(0, ma30[ma30.length - 1], '0,4048', '#ff33cc', -5, null, 70);
valBox(0, ma20[ma20.length - 1], '0,4007', '#1e7fff', 1, null, 71);
valBox(0, candles[candles.length - 1][1], '0,400', '#000', 9, '#ffc20e', 72);
valBox(2, volK[volK.length - 1], '225.732', '#44cc44', -4);
valBox(2, volMA20K[volMA20K.length - 1], '71.189', '#000', -1, null, 71);
valBox(3, stochD[stochD.length - 1], '65,984', '#e07070', -8);
valBox(3, stochK[stochK.length - 1], '60,317', '#000', 7);
valBox(4, macdHist[macdHist.length - 1], '0,0017', '#44cc44', -7);
valBox(4, macdLine[macdLine.length - 1], '-0,0052', '#3030e0', -4, null, 71);
valBox(4, macdSignal[macdSignal.length - 1], '-0,0069', '#e07070', 7, null, 72);

chart.setOption({graphic: G});
</script></body></html>
